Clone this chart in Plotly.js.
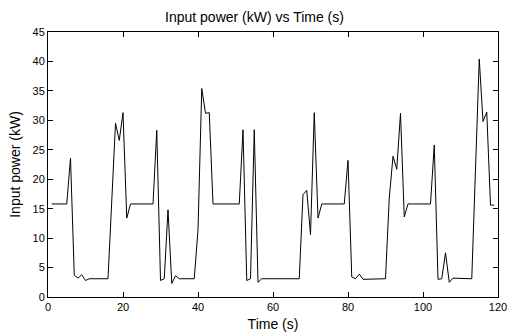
<!DOCTYPE html>
<html>
<head>
<meta charset="utf-8">
<script src="https://cdn.plot.ly/plotly-3.0.1.min.js"></script>
<style>html,body{margin:0;padding:0;background:#fff;}#chart{width:509px;height:332px;}</style>
</head>
<body>
<div id="chart"></div>
<script>
const timeS = [1, 5, 6, 7, 8, 9, 10, 11, 16, 18, 19, 20, 21, 22, 28, 29, 30, 31, 32, 33, 34, 35, 39, 40, 41, 42, 43, 44, 51, 52, 53, 54, 55, 56, 57, 67, 68, 69, 70, 71, 72, 73, 79, 80, 81, 82, 83, 84, 90, 91, 92, 93, 94, 95, 96, 102, 103, 104, 105, 106, 107, 108, 113, 115, 116, 117, 118, 119];
const powerKW = [15.8, 15.8, 23.6, 3.7, 3.2, 3.8, 2.8, 3.1, 3.1, 29.5, 26.6, 31.3, 13.4, 15.8, 15.8, 28.3, 2.8, 3.1, 14.8, 2.3, 3.6, 3.1, 3.1, 11.4, 35.4, 31.2, 31.3, 15.8, 15.8, 28.4, 2.8, 3.1, 28.4, 2.5, 3.1, 3.1, 17.4, 18.1, 10.6, 31.3, 13.4, 15.8, 15.8, 23.2, 3.4, 3.1, 3.9, 3.0, 3.1, 16.8, 23.9, 21.7, 31.2, 13.6, 15.8, 15.8, 25.8, 3.0, 3.1, 7.5, 2.5, 3.2, 3.1, 40.4, 29.8, 31.4, 15.6, 15.6];
const xTicks = [0, 20, 40, 60, 80, 100, 120];
const yTicks = [0, 5, 10, 15, 20, 25, 30, 35, 40, 45];

const fontFam = '"Liberation Sans", Arial, sans-serif';
const axisCommon = {
  showgrid: false, zeroline: false, showline: true, linecolor: '#000', linewidth: 1,
  mirror: 'ticks', ticks: 'inside', ticklen: 5, tickcolor: '#000', tickwidth: 1,
  tickfont: {family: fontFam, size: 11, color: '#000'}
};
Plotly.newPlot('chart', [{
  x: timeS, y: powerKW, type: 'scatter', mode: 'lines',
  line: {color: '#000', width: 1}, hoverinfo: 'skip'
}], {
  width: 509, height: 332,
  margin: {l: 48, r: 11, t: 32, b: 35},
  paper_bgcolor: '#fff', plot_bgcolor: '#fff',
  showlegend: false,
  title: {text: 'Input power (kW) vs Time (s)', font: {family: fontFam, size: 14, color: '#000'}, x: 0.5, xanchor: 'center', y: 0.948, yanchor: 'middle'},
  xaxis: Object.assign({}, axisCommon, {range: [0, 120], tickvals: xTicks, ticktext: xTicks.map(String),
    title: {text: 'Time (s)', font: {family: fontFam, size: 14, color: '#000'}, standoff: 6}}),
  yaxis: Object.assign({}, axisCommon, {range: [0, 45], tickvals: yTicks, ticktext: yTicks.map(String),
    title: {text: 'Input power (kW)', font: {family: fontFam, size: 14, color: '#000'}, standoff: 8}})
}, {staticPlot: true});
</script>
</body>
</html>
